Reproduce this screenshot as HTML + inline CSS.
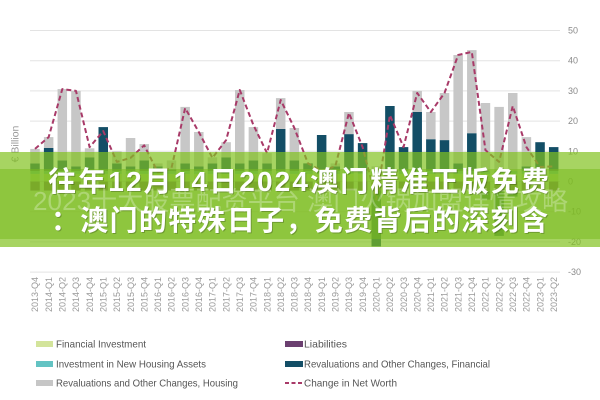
<!DOCTYPE html>
<html>
<head>
<meta charset="utf-8">
<style>
html,body{margin:0;padding:0;background:#fff;}
svg{display:block;}
</style>
</head>
<body>
<svg width="600" height="400" viewBox="0 0 600 400" xmlns="http://www.w3.org/2000/svg">
<defs>
<pattern id="base" patternUnits="userSpaceOnUse" x="30.25" y="170.9" width="13.65" height="19.7">
<rect x="0" y="0" width="9.5" height="3.1" fill="#63c3c3"/>
<rect x="0" y="3.1" width="9.5" height="7.5" fill="#d3e49b"/>
<rect x="0" y="10.6" width="9.5" height="9.1" fill="#6b3f70"/>
</pattern>
</defs>
<rect width="600" height="400" fill="#fff"/>
<!-- gridlines -->
<g stroke="#e3e3e3" stroke-width="1">
<line x1="30" y1="30.5" x2="560" y2="30.5"/>
<line x1="30" y1="60.7" x2="560" y2="60.7"/>
<line x1="30" y1="90.9" x2="560" y2="90.9"/>
<line x1="30" y1="121.1" x2="560" y2="121.1"/>
<line x1="30" y1="151.3" x2="560" y2="151.3"/>
<line x1="30" y1="181.5" x2="560" y2="181.5"/>
<line x1="30" y1="211.7" x2="560" y2="211.7"/>
<line x1="30" y1="241.9" x2="560" y2="241.9"/>
<line x1="30" y1="272.1" x2="560" y2="272.1"/>
</g>
<!-- y labels -->
<g font-family="Liberation Sans, sans-serif" font-size="9" fill="#8a8a8a">
<text x="568" y="33.5">50</text>
<text x="568" y="63.7">40</text>
<text x="568" y="93.9">30</text>
<text x="568" y="124.1">20</text>
<text x="568" y="154.3">10</text>
<text x="568" y="184.5">0</text>
<text x="568" y="214.7">-10</text>
<text x="568" y="244.9">-20</text>
<text x="568" y="275.1">-30</text>
</g>
<text transform="translate(18.5,144) rotate(-90)" text-anchor="middle" font-family="Liberation Sans, sans-serif" font-size="10.5" fill="#999">€ Billion</text>
<!-- base stacks -->
<rect x="30.25" y="170.9" width="528.2" height="19.7" fill="url(#base)"/>
<!-- navy positive -->
<g fill="#134e66">
<rect x="30.25" y="163.4" width="9.5" height="7.5"/>
<rect x="43.90" y="148.0" width="9.5" height="22.9"/>
<rect x="57.55" y="160.4" width="9.5" height="10.5"/>
<rect x="71.20" y="166.4" width="9.5" height="4.5"/>
<rect x="84.85" y="157.3" width="9.5" height="13.6"/>
<rect x="98.50" y="127.1" width="9.5" height="43.8"/>
<rect x="112.15" y="163.4" width="9.5" height="7.5"/>
<rect x="125.80" y="166.4" width="9.5" height="4.5"/>
<rect x="139.45" y="160.4" width="9.5" height="10.5"/>
<rect x="153.10" y="166.4" width="9.5" height="4.5"/>
<rect x="166.75" y="169.4" width="9.5" height="1.5"/>
<rect x="180.40" y="163.4" width="9.5" height="7.5"/>
<rect x="194.05" y="166.4" width="9.5" height="4.5"/>
<rect x="207.70" y="163.4" width="9.5" height="7.5"/>
<rect x="221.35" y="157.3" width="9.5" height="13.6"/>
<rect x="235.00" y="163.4" width="9.5" height="7.5"/>
<rect x="248.65" y="160.4" width="9.5" height="10.5"/>
<rect x="262.30" y="163.4" width="9.5" height="7.5"/>
<rect x="275.95" y="129.0" width="9.5" height="41.9"/>
<rect x="289.60" y="160.4" width="9.5" height="10.5"/>
<rect x="303.25" y="163.4" width="9.5" height="7.5"/>
<rect x="316.90" y="135.0" width="9.5" height="35.9"/>
<rect x="330.55" y="166.4" width="9.5" height="4.5"/>
<rect x="344.20" y="134.1" width="9.5" height="36.8"/>
<rect x="357.85" y="143.1" width="9.5" height="27.8"/>
<rect x="385.15" y="106.0" width="9.5" height="64.9"/>
<rect x="398.80" y="147.1" width="9.5" height="23.8"/>
<rect x="412.45" y="112.0" width="9.5" height="58.9"/>
<rect x="426.10" y="139.2" width="9.5" height="31.7"/>
<rect x="439.75" y="140.1" width="9.5" height="30.8"/>
<rect x="453.40" y="163.4" width="9.5" height="7.5"/>
<rect x="467.05" y="133.2" width="9.5" height="37.7"/>
<rect x="521.65" y="166.4" width="9.5" height="4.5"/>
<rect x="535.30" y="142.2" width="9.5" height="28.7"/>
<rect x="548.95" y="147.1" width="9.5" height="23.8"/>
<!-- navy negative -->
<rect x="371.50" y="190.6" width="9.5" height="55.8"/>
<rect x="480.70" y="190.6" width="9.5" height="9.0"/>
<rect x="494.35" y="190.6" width="9.5" height="45.3"/>
<rect x="508.00" y="190.6" width="9.5" height="6.0"/>
</g>
<!-- gray -->
<g fill="#c7c7c7">
<rect x="30.25" y="148.9" width="9.5" height="14.5"/>
<rect x="43.90" y="137.1" width="9.5" height="10.9"/>
<rect x="57.55" y="89.1" width="9.5" height="71.3"/>
<rect x="71.20" y="90.9" width="9.5" height="75.5"/>
<rect x="84.85" y="148.3" width="9.5" height="9.0"/>
<rect x="112.15" y="151.3" width="9.5" height="12.1"/>
<rect x="125.80" y="138.0" width="9.5" height="28.4"/>
<rect x="139.45" y="144.1" width="9.5" height="16.3"/>
<rect x="153.10" y="163.4" width="9.5" height="3.0"/>
<rect x="166.75" y="160.4" width="9.5" height="9.0"/>
<rect x="180.40" y="106.9" width="9.5" height="56.5"/>
<rect x="194.05" y="132.0" width="9.5" height="34.4"/>
<rect x="207.70" y="157.3" width="9.5" height="6.1"/>
<rect x="221.35" y="142.2" width="9.5" height="15.1"/>
<rect x="235.00" y="90.0" width="9.5" height="73.4"/>
<rect x="248.65" y="127.1" width="9.5" height="33.3"/>
<rect x="262.30" y="153.1" width="9.5" height="10.3"/>
<rect x="275.95" y="98.1" width="9.5" height="30.9"/>
<rect x="289.60" y="128.0" width="9.5" height="32.4"/>
<rect x="330.55" y="163.4" width="9.5" height="3.0"/>
<rect x="344.20" y="112.0" width="9.5" height="22.1"/>
<rect x="371.50" y="166.4" width="9.5" height="4.5"/>
<rect x="412.45" y="90.9" width="9.5" height="21.1"/>
<rect x="426.10" y="112.0" width="9.5" height="27.2"/>
<rect x="439.75" y="93.0" width="9.5" height="47.1"/>
<rect x="453.40" y="55.0" width="9.5" height="108.4"/>
<rect x="467.05" y="50.1" width="9.5" height="83.1"/>
<rect x="480.70" y="103.0" width="9.5" height="67.9"/>
<rect x="494.35" y="106.9" width="9.5" height="64.0"/>
<rect x="508.00" y="93.0" width="9.5" height="77.9"/>
<rect x="521.65" y="137.1" width="9.5" height="29.3"/>
</g>
<!-- net worth line -->
<polyline fill="none" stroke="#a83a68" stroke-width="2" stroke-dasharray="5,3" stroke-linejoin="round"
points="35.00,148.9 48.65,137.1 62.30,89.1 75.95,90.9 89.60,147.1 103.25,131.1 116.90,161.9 130.55,157.9 144.20,145.3 157.85,172.4 171.50,167.9 185.15,108.1 198.80,132.0 212.45,157.9 226.10,140.1 239.75,90.0 253.40,125.0 267.05,153.1 280.70,100.0 294.35,128.0 308.00,163.4 321.65,170.9 335.30,166.4 348.95,112.9 362.60,147.1 376.25,199.6 389.90,115.1 403.55,147.1 417.20,93.0 430.85,112.0 444.50,93.0 458.15,55.0 471.80,51.9 485.45,150.1 499.10,161.9 512.75,106.0 526.40,147.1 540.05,167.0 553.70,166.4"/>
<!-- x labels -->
<g font-family="Liberation Sans, sans-serif" font-size="9" fill="#999" text-anchor="end">
<text transform="translate(38.2,277) rotate(-90)">2013-Q4</text>
<text transform="translate(51.85,277) rotate(-90)">2014-Q1</text>
<text transform="translate(65.5,277) rotate(-90)">2014-Q2</text>
<text transform="translate(79.15,277) rotate(-90)">2014-Q3</text>
<text transform="translate(92.8,277) rotate(-90)">2014-Q4</text>
<text transform="translate(106.45,277) rotate(-90)">2015-Q1</text>
<text transform="translate(120.1,277) rotate(-90)">2015-Q2</text>
<text transform="translate(133.75,277) rotate(-90)">2015-Q3</text>
<text transform="translate(147.4,277) rotate(-90)">2015-Q4</text>
<text transform="translate(161.05,277) rotate(-90)">2016-Q1</text>
<text transform="translate(174.7,277) rotate(-90)">2016-Q2</text>
<text transform="translate(188.35,277) rotate(-90)">2016-Q3</text>
<text transform="translate(202.0,277) rotate(-90)">2016-Q4</text>
<text transform="translate(215.65,277) rotate(-90)">2017-Q1</text>
<text transform="translate(229.3,277) rotate(-90)">2017-Q2</text>
<text transform="translate(242.95,277) rotate(-90)">2017-Q3</text>
<text transform="translate(256.6,277) rotate(-90)">2017-Q4</text>
<text transform="translate(270.25,277) rotate(-90)">2018-Q1</text>
<text transform="translate(283.9,277) rotate(-90)">2018-Q2</text>
<text transform="translate(297.55,277) rotate(-90)">2018-Q3</text>
<text transform="translate(311.2,277) rotate(-90)">2018-Q4</text>
<text transform="translate(324.85,277) rotate(-90)">2019-Q1</text>
<text transform="translate(338.5,277) rotate(-90)">2019-Q2</text>
<text transform="translate(352.15,277) rotate(-90)">2019-Q3</text>
<text transform="translate(365.8,277) rotate(-90)">2019-Q4</text>
<text transform="translate(379.45,277) rotate(-90)">2020-Q1</text>
<text transform="translate(393.1,277) rotate(-90)">2020-Q2</text>
<text transform="translate(406.75,277) rotate(-90)">2020-Q3</text>
<text transform="translate(420.4,277) rotate(-90)">2020-Q4</text>
<text transform="translate(434.05,277) rotate(-90)">2021-Q1</text>
<text transform="translate(447.7,277) rotate(-90)">2021-Q2</text>
<text transform="translate(461.35,277) rotate(-90)">2021-Q3</text>
<text transform="translate(475.0,277) rotate(-90)">2021-Q4</text>
<text transform="translate(488.65,277) rotate(-90)">2022-Q1</text>
<text transform="translate(502.3,277) rotate(-90)">2022-Q2</text>
<text transform="translate(515.95,277) rotate(-90)">2022-Q3</text>
<text transform="translate(529.6,277) rotate(-90)">2022-Q4</text>
<text transform="translate(543.25,277) rotate(-90)">2023-Q1</text>
<text transform="translate(556.9,277) rotate(-90)">2023-Q2</text>
</g>
<!-- legend -->
<g font-family="Liberation Sans, sans-serif" font-size="10.5" fill="#555">
<rect x="36" y="341" width="17" height="6" fill="#d3e49b"/>
<text x="56" y="347.7" textLength="90" lengthAdjust="spacingAndGlyphs">Financial Investment</text>
<rect x="36" y="361" width="17" height="6" fill="#63c3c3"/>
<text x="56" y="367.7" textLength="150" lengthAdjust="spacingAndGlyphs">Investment in New Housing Assets</text>
<rect x="36" y="380" width="17" height="6" fill="#c6c6c6"/>
<text x="56" y="386.7" textLength="182" lengthAdjust="spacingAndGlyphs">Revaluations and Other Changes, Housing</text>
<rect x="285" y="341" width="18" height="6" fill="#6b3f70"/>
<text x="304" y="347.7" textLength="43" lengthAdjust="spacingAndGlyphs">Liabilities</text>
<rect x="285" y="361" width="18" height="6" fill="#134e66"/>
<text x="304" y="367.7" textLength="186" lengthAdjust="spacingAndGlyphs">Revaluations and Other Changes, Financial</text>
<line x1="285" y1="383" x2="303" y2="383" stroke="#a83a68" stroke-width="2" stroke-dasharray="4,2.5"/>
<text x="304" y="386.7" textLength="93" lengthAdjust="spacingAndGlyphs">Change in Net Worth</text>
</g>
<!-- banner -->
<rect x="0" y="152" width="600" height="95" fill="rgb(129,194,31)" fill-opacity="0.7"/>
<rect x="0" y="169" width="600" height="70" fill="rgb(120,185,30)" fill-opacity="0.53"/>
<g font-family="Liberation Sans, Noto Sans CJK SC, sans-serif">
<text x="33" y="210" font-size="26" fill="#ffffff" fill-opacity="0.28" textLength="535" lengthAdjust="spacing">2023十大股票配资平台 澳门火锅加盟详情攻略</text>
<text x="49" y="192" font-size="28" font-weight="bold" fill="#000" fill-opacity="0.22" textLength="501" lengthAdjust="spacing">往年12月14日2024澳门精准正版免费</text>
<text x="52" y="231" font-size="28" font-weight="bold" fill="#000" fill-opacity="0.22" textLength="497" lengthAdjust="spacing">：澳门的特殊日子，免费背后的深刻含</text>
<text x="48" y="191" font-size="28" font-weight="bold" fill="#ffffff" textLength="501" lengthAdjust="spacing">往年12月14日2024澳门精准正版免费</text>
<text x="51" y="230" font-size="28" font-weight="bold" fill="#ffffff" textLength="497" lengthAdjust="spacing">：澳门的特殊日子，免费背后的深刻含</text>
</g>
</svg>
</body>
</html>
